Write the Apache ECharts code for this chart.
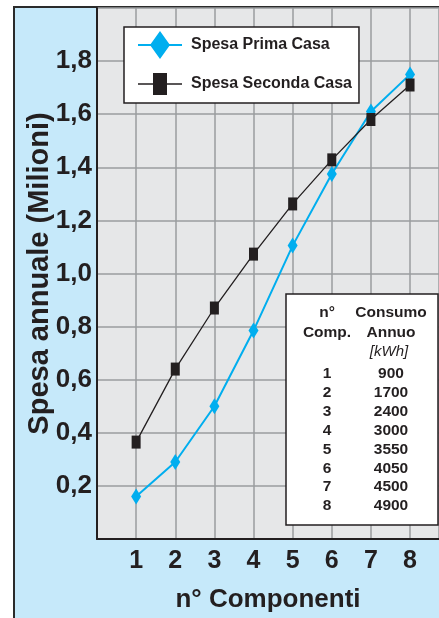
<!DOCTYPE html>
<html><head><meta charset="utf-8">
<script src="https://cdn.jsdelivr.net/npm/echarts@6/dist/echarts.min.js"></script>
<style>html,body{margin:0;padding:0;background:#fff}#c{width:439px;height:618px}</style>
</head><body><div id="c"></div>
<script>
const componenti = [1, 2, 3, 4, 5, 6, 7, 8];
const spesaPrimaCasa = [0.16, 0.29, 0.50, 0.785, 1.105, 1.375, 1.61, 1.75];
const spesaSecondaCasa = [0.365, 0.64, 0.87, 1.073, 1.262, 1.428, 1.58, 1.71];
const consumoAnnuo = [900, 1700, 2400, 3000, 3550, 4050, 4500, 4900];
const seriesNames = ['Spesa Prima Casa', 'Spesa Seconda Casa'];
const yTickLabels = ['0,2', '0,4', '0,6', '0,8', '1,0', '1,2', '1,4', '1,6', '1,8'];
const xTickLabels = ['1', '2', '3', '4', '5', '6', '7', '8'];

const FONT = '"Liberation Sans", Arial, sans-serif';
const BLUE = '#00aeef', BLACK = '#231f20', GRID = '#9a9c9f';

const chart = echarts.init(document.getElementById('c'), null, {renderer: 'canvas'});

// legend icons (line + marker), bounding box 44x28
const iconDiamond = 'path://M0,0 L0,0 Z M44,28 L44,28 Z M0,13 L44,13 L44,15 L0,15 Z M22,0 L32,14 L22,28 L12,14 Z';
const iconSquare = 'path://M0,0 L0,0 Z M44,28 L44,28 Z M0,13.3 L44,13.3 L44,14.7 L0,14.7 Z M15,3 L29,3 L29,25 L15,25 Z';

const TF = 'bold 15.5px ' + FONT;
const tableEls = [{type: 'rect', z: 100, shape: {x: 286, y: 294, width: 152, height: 231},
  style: {fill: '#ffffff', stroke: BLACK, lineWidth: 1.5}}];
function tt(x, y, text, font) {
  tableEls.push({type: 'text', z: 101, x: x, y: y,
    style: {text: text, font: font, fill: BLACK, align: 'center', verticalAlign: 'middle'}});
}
const colX1 = 327, colX2 = 391;
tt(colX1, 313, 'n°', TF);
tt(colX2, 313, 'Consumo', TF);
tt(colX1, 333, 'Comp.', TF);
tt(colX2, 333, 'Annuo', TF);
tt(389, 352, '[kWh]', 'italic 15px ' + FONT);
componenti.forEach((c, i) => {
  const y = 374 + i * 18.86;
  tt(colX1, y, String(c), TF);
  tt(colX2, y, String(consumoAnnuo[i]), TF);
});

const option = {
  animation: false,
  backgroundColor: '#ffffff',
  grid: {left: 97, right: 0, top: 8, bottom: 78, show: true, backgroundColor: '#e6e7e8', borderWidth: 0, containLabel: false},
  legend: {
    orient: 'vertical', left: 124, top: 27,
    backgroundColor: '#ffffff', borderColor: BLACK, borderWidth: 1.5,
    padding: [4, 7, 5, 14], itemGap: 11,
    itemWidth: 44, itemHeight: 28,
    textStyle: {fontFamily: FONT, fontWeight: 'bold', fontSize: 16, color: BLACK, padding: [0, 0, 0, 4]},
    data: [
      {name: seriesNames[0], icon: iconDiamond, itemStyle: {color: BLUE, borderWidth: 0}},
      {name: seriesNames[1], icon: iconSquare, itemStyle: {color: BLACK, borderWidth: 0}}
    ]
  },
  xAxis: {
    type: 'value', min: 0, max: 8.74, interval: 1,
    name: 'n° Componenti', nameLocation: 'middle', nameGap: 48, nameMoveOverlap: false,
    nameTextStyle: {fontFamily: FONT, fontWeight: 'bold', fontSize: 26, color: BLACK},
    axisLine: {show: true, onZero: false, lineStyle: {color: BLACK, width: 2}},
    axisTick: {show: false},
    axisLabel: {
      margin: 10, fontFamily: FONT, fontWeight: 'bold', fontSize: 25, color: BLACK,
      showMaxLabel: false,
      formatter: v => { const i = componenti.indexOf(v); return i >= 0 ? xTickLabels[i] : ''; }
    },
    splitLine: {show: true, lineStyle: {color: GRID, width: 1.5}}
  },
  yAxis: {
    type: 'value', min: 0, max: 2.0, interval: 0.2,
    name: 'Spesa annuale (Milioni)', nameLocation: 'middle', nameGap: 43, nameRotate: 90, nameMoveOverlap: false,
    nameTextStyle: {fontFamily: FONT, fontWeight: 'bold', fontSize: 29, color: BLACK},
    axisLine: {show: true, lineStyle: {color: BLACK, width: 2}},
    axisTick: {show: false},
    axisLabel: {
      margin: 5, fontFamily: FONT, fontWeight: 'bold', fontSize: 26, color: BLACK,
      formatter: v => { const k = Math.round(v * 5) - 1; return (k >= 0 && k < yTickLabels.length) ? yTickLabels[k] : ''; }
    },
    splitLine: {show: true, lineStyle: {color: GRID, width: 1.5}}
  },
  series: [
    {
      name: seriesNames[0], type: 'line', z: 2,
      data: componenti.map((c, i) => [c, spesaPrimaCasa[i]]),
      symbol: 'diamond', symbolSize: [10, 16],
      itemStyle: {color: BLUE}, lineStyle: {color: BLUE, width: 2}
    },
    {
      name: seriesNames[1], type: 'line', z: 3,
      data: componenti.map((c, i) => [c, spesaSecondaCasa[i]]),
      symbol: 'rect', symbolSize: [9, 13],
      itemStyle: {color: BLACK}, lineStyle: {color: BLACK, width: 1.3}
    }
  ],
  graphic: [
    {type: 'rect', z: -10, silent: true, shape: {x: 14, y: 7, width: 440, height: 620},
      style: {fill: '#c6e9fa', stroke: '#2b2b2b', lineWidth: 2}}
  ].concat(tableEls)
};
chart.setOption(option);
</script>
</body></html>
